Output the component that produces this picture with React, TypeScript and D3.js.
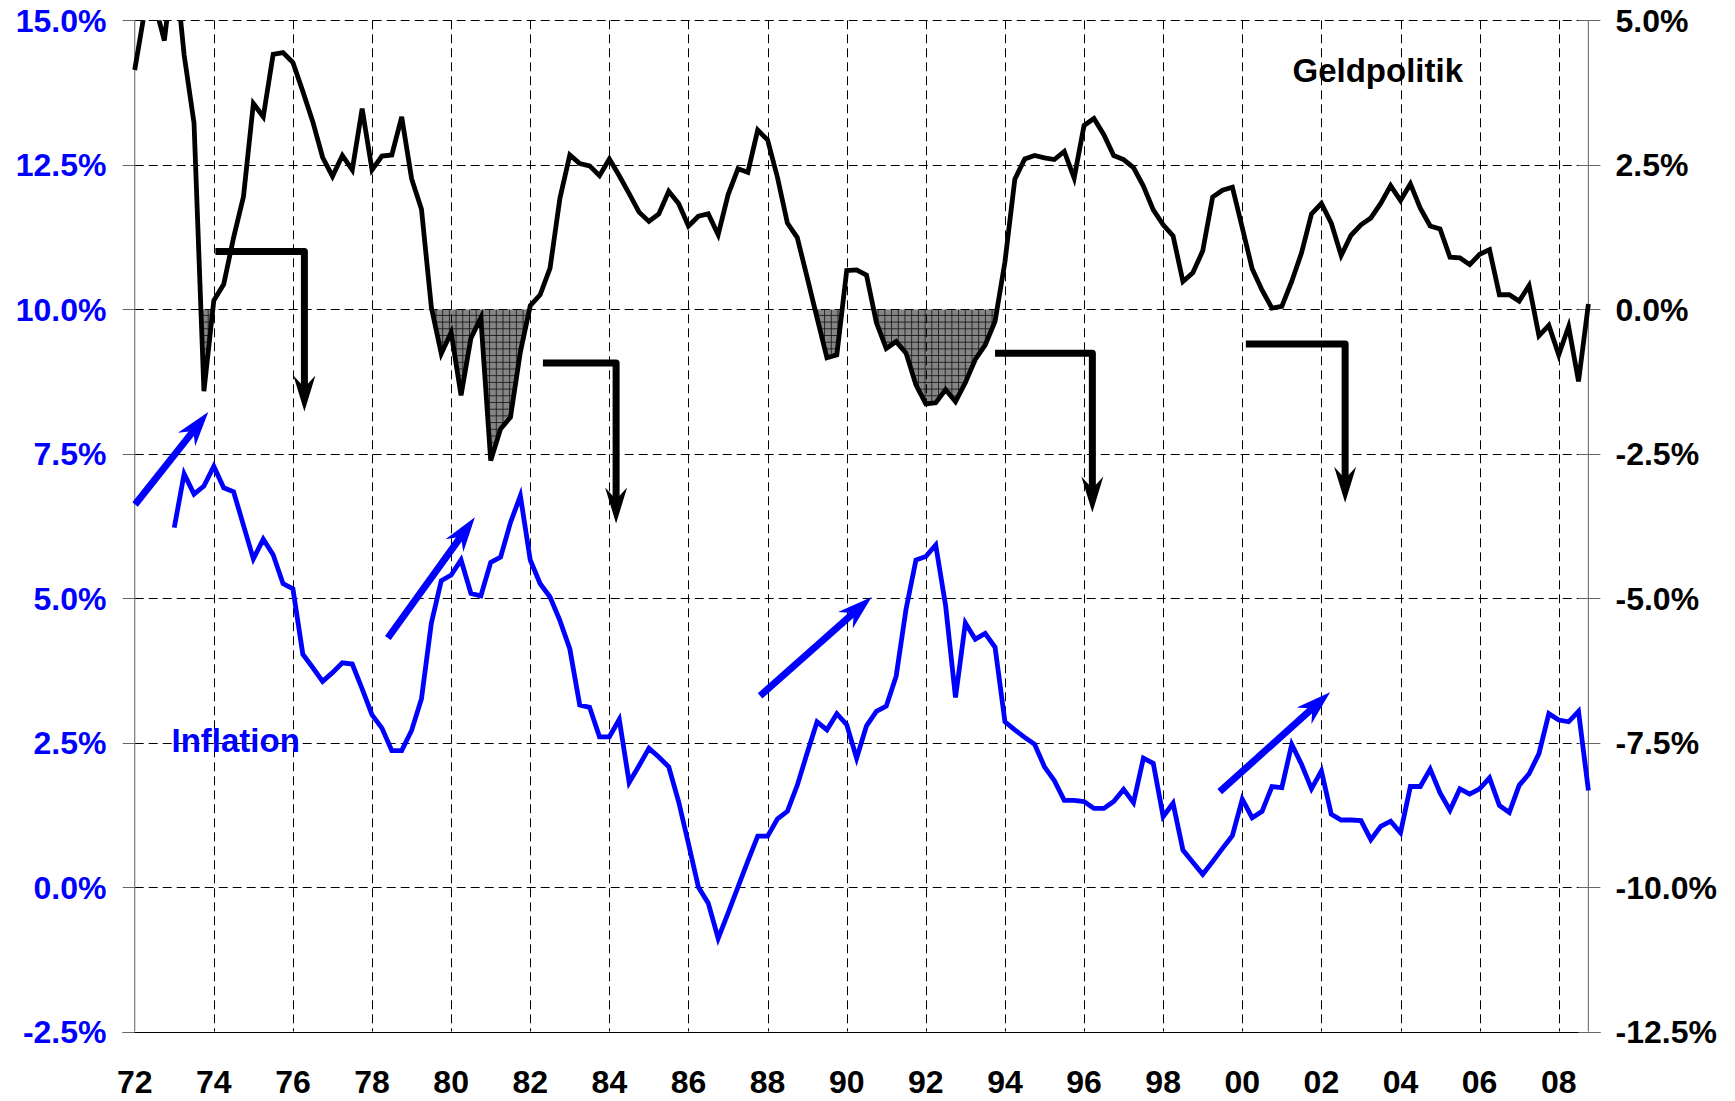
import * as d3 from "d3";
import { useEffect, useRef } from "react";

// quarterly series, first value = Q1 of the start year
const policyStart = 1972;
const policy = [
  4.14, 5.15, 5.3, 4.65,
  6.1, 4.4, 3.22, -1.42,
  0.15, 0.43, 1.24, 1.95,
  3.56, 3.33, 4.41, 4.44,
  4.27, 3.77, 3.25, 2.63,
  2.3, 2.66, 2.41, 3.47,
  2.41, 2.65, 2.67, 3.33,
  2.26, 1.73, 0.03, -0.77,
  -0.4, -1.49, -0.5, -0.15,
  -2.62, -2.07, -1.87, -0.74,
  0.06, 0.25, 0.71, 1.92,
  2.67, 2.52, 2.48, 2.31,
  2.6, 2.31, 2.0, 1.68,
  1.52, 1.65, 2.04, 1.83,
  1.44, 1.61, 1.65, 1.29,
  1.98, 2.43, 2.37, 3.1,
  2.93, 2.28, 1.49, 1.24,
  0.55, -0.15, -0.84, -0.79,
  0.67, 0.68, 0.59, -0.23,
  -0.68, -0.56, -0.76, -1.31,
  -1.64, -1.62, -1.39, -1.6,
  -1.27, -0.87, -0.62, -0.21,
  0.82, 2.25, 2.6, 2.66,
  2.62, 2.59, 2.73, 2.27,
  3.18, 3.3, 3.02, 2.66,
  2.59, 2.45, 2.13, 1.72,
  1.46, 1.27, 0.48, 0.63,
  1.01, 1.94, 2.06, 2.11,
  1.41, 0.7, 0.33, 0.02,
  0.05, 0.48, 0.98, 1.65,
  1.83, 1.49, 0.93, 1.28,
  1.46, 1.58, 1.83, 2.14,
  1.88, 2.17, 1.75, 1.44,
  1.39, 0.9, 0.89, 0.77,
  0.95, 1.03, 0.25, 0.25,
  0.14, 0.41, -0.46, -0.28,
  -0.79, -0.3, -1.25, 0.09,
];

const inflationStart = 1973;
const inflation = [
  6.22, 7.15, 6.8, 6.94,
  7.28, 6.91, 6.84, 6.26,
  5.68, 6.02, 5.75, 5.25,
  5.16, 4.03, 3.8, 3.56,
  3.71, 3.88, 3.86, 3.43,
  2.98, 2.75, 2.36, 2.36,
  2.71, 3.26, 4.57, 5.3,
  5.4, 5.66, 5.08, 5.04,
  5.62, 5.71, 6.31, 6.77,
  5.66, 5.25, 5.02, 4.61,
  4.12, 3.15, 3.11, 2.6,
  2.6, 2.9, 1.81, 2.1,
  2.4, 2.25, 2.08, 1.48,
  0.75, 0.0, -0.28, -0.89,
  -0.45, 0.0, 0.45, 0.88,
  0.88, 1.18, 1.31, 1.76,
  2.32, 2.86, 2.72, 3.0,
  2.81, 2.23, 2.79, 3.04,
  3.13, 3.65, 4.81, 5.66,
  5.72, 5.92, 4.87, 3.28,
  4.57, 4.29, 4.39, 4.15,
  2.86, 2.72, 2.59, 2.47,
  2.08, 1.84, 1.5, 1.5,
  1.48, 1.36, 1.36, 1.48,
  1.69, 1.46, 2.23, 2.14,
  1.22, 1.45, 0.64, 0.43,
  0.22, 0.44, 0.67, 0.89,
  1.52, 1.2, 1.31, 1.74,
  1.72, 2.47, 2.12, 1.7,
  2.01, 1.26, 1.16, 1.16,
  1.15, 0.82, 1.05, 1.14,
  0.94, 1.74, 1.74, 2.04,
  1.63, 1.33, 1.7, 1.61,
  1.7, 1.89, 1.41, 1.29,
  1.76, 1.96, 2.31, 3.0,
  2.89, 2.86, 3.04, 1.67,
];

const leftTicks = [-2.5, 0, 2.5, 5, 7.5, 10, 12.5, 15];
const rightTicks = [-12.5, -10, -7.5, -5, -2.5, 0, 2.5, 5];
const yearTicks = [1972, 1974, 1976, 1978, 1980, 1982, 1984, 1986, 1988, 1990, 1992, 1994, 1996, 1998, 2000, 2002, 2004, 2006, 2008];

// periods where the restrictive gap is shaded
const shadedPeriods: [number, number][] = [
  [1973.5, 1974.25],
  [1979.25, 1982.25],
  [1989.0, 1990.25],
  [1990.5, 1994.25],
];

// black "turn" arrows, right-axis units
const stepArrows = [
  { from: 1974.04, turn: 1976.29, level: 1.0, tip: -1.77 },
  { from: 1982.32, turn: 1984.17, level: -0.93, tip: -3.71 },
  { from: 1993.75, turn: 1996.21, level: -0.76, tip: -3.52 },
  { from: 2000.09, turn: 2002.6, level: -0.6, tip: -3.35 },
];

// blue rising arrows, left-axis units
const riseArrows = [
  { x0: 1972.01, y0: 6.62, x1: 1973.86, y1: 8.22 },
  { x0: 1978.4, y0: 4.31, x1: 1980.6, y1: 6.4 },
  { x0: 1987.81, y0: 3.31, x1: 1990.63, y1: 5.02 },
  { x0: 1999.43, y0: 1.65, x1: 2002.22, y1: 3.37 },
];

type Pt = { t: number; v: number };

const FONT = "'Liberation Sans', Arial, Helvetica, sans-serif";
const BLUE = "#0000ff";

function headPath(tx: number, ty: number, ux: number, uy: number, L = 36, W = 11, N = 24) {
  const nx = -uy;
  const ny = ux;
  const p1 = [tx - L * ux + W * nx, ty - L * uy + W * ny];
  const p2 = [tx - N * ux, ty - N * uy];
  const p3 = [tx - L * ux - W * nx, ty - L * uy - W * ny];
  return `M${tx},${ty}L${p1[0]},${p1[1]}L${p2[0]},${p2[1]}L${p3[0]},${p3[1]}Z`;
}

const pct = (v: number) => `${v.toFixed(1)}%`;

export default function App() {
  const ref = useRef<SVGSVGElement | null>(null);

  useEffect(() => {
    const el = ref.current;
    if (!el) return;
    const svg = d3.select(el);
    svg.selectAll("*").remove();

    const W = 1735;
    const H = 1101;
    const left = 134.7;
    const right = 1588.4;
    const top = 20.3;
    const bottom = 1031.5;

    const x = d3.scaleLinear().domain([1972, 2008.75]).range([left, right]);
    const yL = d3.scaleLinear().domain([-2.5, 15]).range([bottom, top]);
    const yR = d3.scaleLinear().domain([-12.5, 5]).range([bottom, top]);

    const pol: Pt[] = policy.map((v, i) => ({ t: policyStart + i * 0.25, v }));
    const inf: Pt[] = inflation.map((v, i) => ({ t: inflationStart + i * 0.25, v }));

    svg.attr("width", W).attr("height", H).attr("viewBox", `0 0 ${W} ${H}`);
    svg.append("rect").attr("width", W).attr("height", H).attr("fill", "#fff");

    const defs = svg.append("defs");
    const pat = defs
      .append("pattern")
      .attr("id", "hatch")
      .attr("patternUnits", "userSpaceOnUse")
      .attr("width", 6.7)
      .attr("height", 6.7);
    pat.append("rect").attr("width", 6.7).attr("height", 6.7).attr("fill", "#858585");
    pat
      .append("path")
      .attr("d", "M0,0.4H6.7M0.4,0V6.7")
      .attr("stroke", "#111")
      .attr("stroke-width", 0.9);

    defs
      .append("clipPath")
      .attr("id", "plotTop")
      .append("rect")
      .attr("x", 0)
      .attr("y", top)
      .attr("width", W)
      .attr("height", H - top);

    const shadeClip = defs.append("clipPath").attr("id", "shadeClip");
    shadedPeriods.forEach(([a, b]) => {
      shadeClip
        .append("rect")
        .attr("x", x(a))
        .attr("y", yR(0))
        .attr("width", x(b) - x(a))
        .attr("height", bottom - yR(0));
    });

    // shaded gap below zero
    const area = d3
      .area<Pt>()
      .x((d) => x(d.t))
      .y0(yR(0))
      .y1((d) => yR(d.v));
    svg
      .append("path")
      .datum(pol)
      .attr("clip-path", "url(#shadeClip)")
      .attr("fill", "url(#hatch)")
      .attr("d", area);

    // grid
    const grid = svg.append("g").attr("stroke", "#000").attr("stroke-width", 1).attr("stroke-dasharray", "9,5");
    leftTicks
      .filter((v) => v > -2.5)
      .forEach((v) => {
        const yy = Math.round(yL(v)) + 0.5;
        grid.append("line").attr("x1", left).attr("x2", right).attr("y1", yy).attr("y2", yy);
      });
    yearTicks
      .filter((t) => t > 1972)
      .forEach((t) => {
        const xx = Math.round(x(t)) + 0.5;
        grid.append("line").attr("x1", xx).attr("x2", xx).attr("y1", top).attr("y2", bottom);
      });

    // axes
    const ax = svg.append("g");
    ax.append("line")
      .attr("x1", left).attr("x2", left).attr("y1", top).attr("y2", bottom)
      .attr("stroke", "#7a7a7a").attr("stroke-width", 1.2);
    ax.append("line")
      .attr("x1", right).attr("x2", right).attr("y1", top).attr("y2", bottom)
      .attr("stroke", "#7a7a7a").attr("stroke-width", 1.2);
    ax.append("line")
      .attr("x1", left - 12).attr("x2", right + 12).attr("y1", Math.round(bottom) + 0.5).attr("y2", Math.round(bottom) + 0.5)
      .attr("stroke", "#000").attr("stroke-width", 1);

    leftTicks.forEach((v) => {
      const yy = Math.round(yL(v)) + 0.5;
      ax.append("line").attr("x1", left - 12).attr("x2", left).attr("y1", yy).attr("y2", yy)
        .attr("stroke", "#666").attr("stroke-width", 1);
      ax.append("text")
        .attr("x", 106.5)
        .attr("y", yL(v) + 11.5)
        .attr("text-anchor", "end")
        .attr("fill", BLUE)
        .attr("font-family", FONT)
        .attr("font-weight", 700)
        .attr("font-size", 32)
        .text(pct(v));
    });
    rightTicks.forEach((v) => {
      const yy = Math.round(yR(v)) + 0.5;
      ax.append("line").attr("x1", right - 10).attr("x2", right + 12).attr("y1", yy).attr("y2", yy)
        .attr("stroke", "#666").attr("stroke-width", 1);
      ax.append("text")
        .attr("x", 1615.5)
        .attr("y", yR(v) + 11.5)
        .attr("fill", "#000")
        .attr("font-family", FONT)
        .attr("font-weight", 700)
        .attr("font-size", 32)
        .text(pct(v));
    });
    yearTicks.forEach((t) => {
      ax.append("text")
        .attr("x", x(t))
        .attr("y", 1093)
        .attr("text-anchor", "middle")
        .attr("fill", "#000")
        .attr("font-family", FONT)
        .attr("font-weight", 700)
        .attr("font-size", 32)
        .text(String(t % 100).padStart(2, "0"));
    });

    // series
    const linePol = d3.line<Pt>().x((d) => x(d.t)).y((d) => yR(d.v));
    const lineInf = d3.line<Pt>().x((d) => x(d.t)).y((d) => yL(d.v));

    svg
      .append("path")
      .datum(pol)
      .attr("clip-path", "url(#plotTop)")
      .attr("fill", "none")
      .attr("stroke", "#000")
      .attr("stroke-width", 4.8)
      .attr("d", linePol);

    svg
      .append("path")
      .datum(inf)
      .attr("fill", "none")
      .attr("stroke", BLUE)
      .attr("stroke-width", 4.8)
      .attr("d", lineInf);

    // black turn arrows
    stepArrows.forEach((a) => {
      const xs = x(a.turn);
      const tipY = yR(a.tip);
      svg
        .append("path")
        .attr("d", `M${x(a.from)},${yR(a.level)}H${xs}V${tipY - 22}`)
        .attr("fill", "none")
        .attr("stroke", "#000")
        .attr("stroke-width", 7)
        .attr("stroke-linejoin", "round");
      svg.append("path").attr("d", headPath(xs, tipY, 0, 1)).attr("fill", "#000");
    });

    // blue arrows
    riseArrows.forEach((a) => {
      const sx = x(a.x0);
      const sy = yL(a.y0);
      const tx = x(a.x1);
      const ty = yL(a.y1);
      const len = Math.hypot(tx - sx, ty - sy);
      const ux = (tx - sx) / len;
      const uy = (ty - sy) / len;
      svg
        .append("line")
        .attr("x1", sx)
        .attr("y1", sy)
        .attr("x2", tx - 22 * ux)
        .attr("y2", ty - 22 * uy)
        .attr("stroke", BLUE)
        .attr("stroke-width", 7);
      svg.append("path").attr("d", headPath(tx, ty, ux, uy, 35, 11, 24)).attr("fill", BLUE);
    });

    // labels
    svg
      .append("text")
      .attr("x", x(2001.27))
      .attr("y", yR(3.94))
      .attr("fill", "#000")
      .attr("font-family", FONT)
      .attr("font-weight", 700)
      .attr("font-size", 33)
      .text("Geldpolitik");
    svg
      .append("text")
      .attr("x", x(1972.93))
      .attr("y", yL(2.34))
      .attr("fill", BLUE)
      .attr("font-family", FONT)
      .attr("font-weight", 700)
      .attr("font-size", 33)
      .text("Inflation");
  }, []);

  return (
    <svg
      ref={ref}
      style={{ position: "absolute", left: 0, top: 0, display: "block" }}
      width={1735}
      height={1101}
    />
  );
}
